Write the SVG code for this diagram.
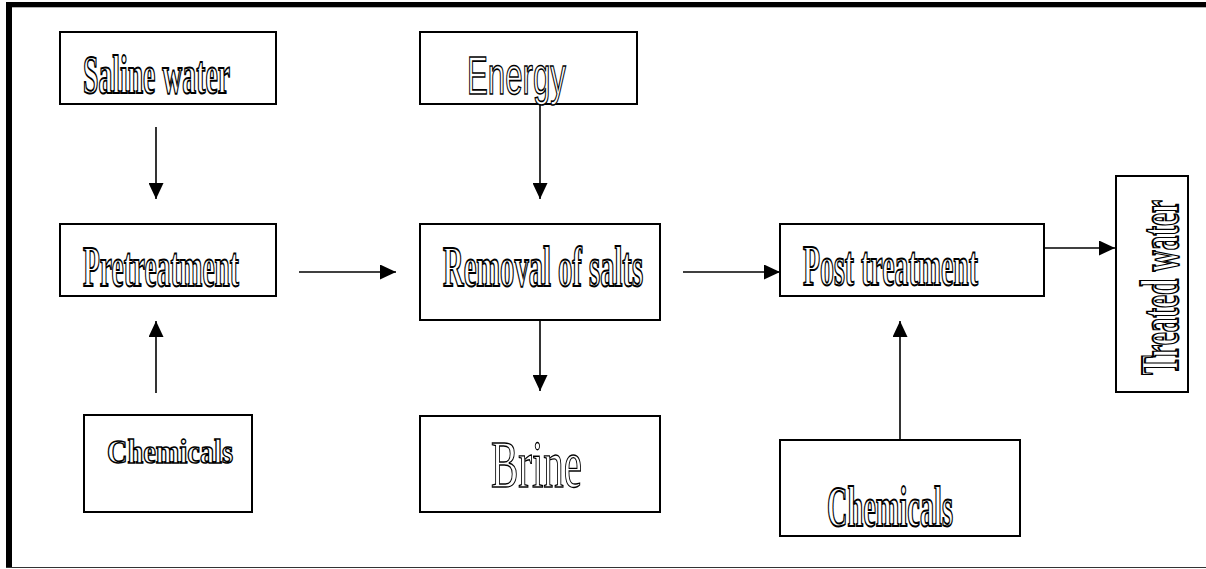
<svg xmlns="http://www.w3.org/2000/svg" width="1206" height="569" viewBox="0 0 1206 569">
<style>
.box{fill:#fff;stroke:#000;stroke-width:2}
.ser{font-family:"Liberation Serif","Times New Roman",serif;font-weight:bold;fill:#fff;stroke:#000;stroke-width:2}
.san{font-family:"Liberation Sans",Arial,sans-serif;fill:#fff;stroke:#000;stroke-width:1.6}
.con{stroke:#000;stroke-width:1.6;fill:none;marker-end:url(#ah)}
</style>
<defs>
<marker id="ah" markerUnits="userSpaceOnUse" markerWidth="16" markerHeight="15" viewBox="0 0 16 15" refX="16" refY="7.5" orient="auto">
<path d="M0,0 L16,7.5 L0,15 z" fill="#000"/>
</marker>
</defs>
<rect width="1206" height="569" fill="#fff"/>
<g id="frame">
<rect x="6" y="2" width="1200" height="5.3" fill="#000"/>
<rect x="6" y="2" width="6" height="566" fill="#000"/>
<line x1="6" y1="567.5" x2="1206" y2="567.5" stroke="#333" stroke-width="1.2"/>
</g>
<g id="connectors">
<line class="con" x1="156" y1="127" x2="156" y2="199"/>
<line class="con" x1="156" y1="393" x2="156" y2="321"/>
<line class="con" x1="299" y1="272" x2="396" y2="272"/>
<line class="con" x1="540" y1="104" x2="540" y2="199"/>
<line class="con" x1="540" y1="320" x2="540" y2="391"/>
<line class="con" x1="683" y1="272" x2="780" y2="272"/>
<line class="con" x1="900" y1="440" x2="900" y2="321"/>
<line class="con" x1="1044" y1="248" x2="1115" y2="248"/>
</g>
<g id="saline">
<rect class="box" x="60" y="32" width="216" height="72"/>
<text class="ser" x="83" y="93" font-size="54" textLength="147" lengthAdjust="spacingAndGlyphs">Saline water</text>
</g>
<g id="energy">
<rect class="box" x="420" y="32" width="217" height="72"/>
<text class="san" x="467" y="94" font-size="54" textLength="99" lengthAdjust="spacingAndGlyphs">Energy</text>
</g>
<g id="pretreatment">
<rect class="box" x="60" y="224" width="216" height="72"/>
<text class="ser" x="83" y="286" font-size="57" textLength="156" lengthAdjust="spacingAndGlyphs">Pretreatment</text>
</g>
<g id="removal">
<rect class="box" x="420" y="224" width="240" height="96"/>
<text class="ser" x="443" y="286" font-size="56" textLength="200" lengthAdjust="spacingAndGlyphs">Removal of salts</text>
</g>
<g id="post">
<rect class="box" x="780" y="224" width="264" height="72"/>
<text class="ser" x="803" y="285" font-size="56" textLength="175" lengthAdjust="spacingAndGlyphs">Post treatment</text>
</g>
<g id="treated">
<rect class="box" x="1116" y="176" width="72" height="216"/>
<text class="ser" transform="translate(1178,375) rotate(-90)" x="0" y="0" font-size="55" textLength="175" lengthAdjust="spacingAndGlyphs">Treated water</text>
</g>
<g id="chemicals1">
<rect class="box" x="84" y="415" width="168" height="97"/>
<text class="ser" x="107" y="463" font-size="34" textLength="126" lengthAdjust="spacingAndGlyphs" style="stroke-width:1.5">Chemicals</text>
</g>
<g id="brine">
<rect class="box" x="420" y="416" width="240" height="96"/>
<text class="ser" x="491" y="487" font-size="68" textLength="91" lengthAdjust="spacingAndGlyphs" style="font-weight:normal;stroke-width:1.4">Brine</text>
</g>
<g id="chemicals2">
<rect class="box" x="780" y="440" width="240" height="96"/>
<text class="ser" x="827" y="526" font-size="56" textLength="126" lengthAdjust="spacingAndGlyphs">Chemicals</text>
</g>
</svg>
